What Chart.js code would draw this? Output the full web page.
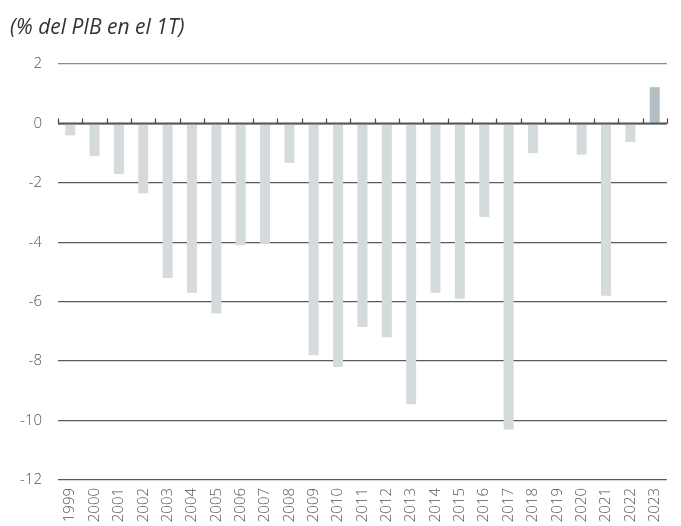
<!DOCTYPE html>
<html>
<head>
<meta charset="utf-8">
<script src="https://cdn.jsdelivr.net/npm/chart.js@4/dist/chart.umd.min.js"></script>
<style>
  html, body { margin: 0; padding: 0; background: #ffffff; }
  #wrap { width: 681px; height: 526px; position: relative; }
</style>
</head>
<body>
<div id="wrap"><canvas id="chart"></canvas></div>
<script>
// Annual balance, % of GDP in Q1
const years = ['1999','2000','2001','2002','2003','2004','2005','2006','2007','2008',
               '2009','2010','2011','2012','2013','2014','2015','2016','2017','2018',
               '2019','2020','2021','2022','2023'];
const balance = [-0.4, -1.1, -1.7, -2.35, -5.2, -5.7, -6.4, -4.1, -4.05, -1.33,
                 -7.8, -8.2, -6.85, -7.2, -9.45, -5.7, -5.9, -3.15, -10.3, -1.0,
                 -0.05, -1.05, -5.8, -0.62, 1.22];
const yTicks = [-12, -10, -8, -6, -4, -2, 0, 2];
const titleText = '(% del PIB en el 1T)';

const barColors = years.map((y, i) => i === years.length - 1 ? '#b3bec4' : '#d5dadd');
const fontFamily = '"Open Sans", "Liberation Sans", sans-serif';

// Subtitle drawn in the top-left corner
const subtitlePlugin = {
  id: 'subtitleText',
  afterDraw(chart) {
    const ctx = chart.ctx;
    ctx.save();
    ctx.font = 'italic 21px ' + fontFamily;
    ctx.fillStyle = '#333333';
    ctx.textBaseline = 'alphabetic';
    ctx.textAlign = 'left';
    ctx.fillText(titleText, 10, 34);
    ctx.restore();
  }
};

// Small category-boundary tick marks standing on the zero line
const zeroTicksPlugin = {
  id: 'zeroTicks',
  afterDatasetsDraw(chart) {
    const x = chart.scales.x, y = chart.scales.y;
    const y0 = y.getPixelForValue(0);
    const n = years.length;
    const step = (x.right - x.left) / n;
    const ctx = chart.ctx;
    ctx.save();
    ctx.strokeStyle = '#444444';
    ctx.lineWidth = 1.2;
    ctx.beginPath();
    for (let i = 0; i <= n; i++) {
      const px = Math.round(x.left + i * step) + 0.5;
      ctx.moveTo(px, y0);
      ctx.lineTo(px, y0 - 5);
    }
    ctx.stroke();
    // zero line
    ctx.strokeStyle = '#555555';
    ctx.lineWidth = 2;
    ctx.beginPath();
    ctx.moveTo(x.left, y0);
    ctx.lineTo(x.right, y0);
    ctx.stroke();
    ctx.restore();
  }
};

new Chart(document.getElementById('chart'), {
  type: 'bar',
  data: {
    labels: years,
    datasets: [{
      data: balance,
      backgroundColor: barColors,
      borderWidth: 0,
      barPercentage: 0.41,
      categoryPercentage: 1.0
    }]
  },
  options: {
    responsive: true,
    maintainAspectRatio: false,
    animation: false,
    devicePixelRatio: 1,
    layout: { padding: { top: 64, right: 14, bottom: 0, left: 0 } },
    plugins: {
      legend: { display: false },
      tooltip: { enabled: false },
      title: { display: false }
    },
    scales: {
      x: {
        grid: { display: false, drawTicks: false },
        border: { display: false },
        ticks: {
          autoSkip: false,
          minRotation: 90,
          maxRotation: 90,
          padding: 8,
          color: '#555555',
          font: { family: fontFamily, size: 15, weight: 300 }
        },
        afterFit(scale) { scale.height = 46; }
      },
      y: {
        min: -12,
        max: 2,
        afterBuildTicks(scale) { scale.ticks = yTicks.map(v => ({ value: v })); },
        grid: {
          drawTicks: false,
          color: ctx => ctx.tick && ctx.tick.value === 2 ? '#8a8a8a' : '#5a5a5a',
          lineWidth: 1.3
        },
        border: { display: false },
        ticks: {
          padding: 16,
          color: '#555555',
          font: { family: fontFamily, size: 15, weight: 300 }
        },
        afterFit(scale) { scale.width = 58; }
      }
    }
  },
  plugins: [subtitlePlugin, zeroTicksPlugin]
});
</script>
</body>
</html>
